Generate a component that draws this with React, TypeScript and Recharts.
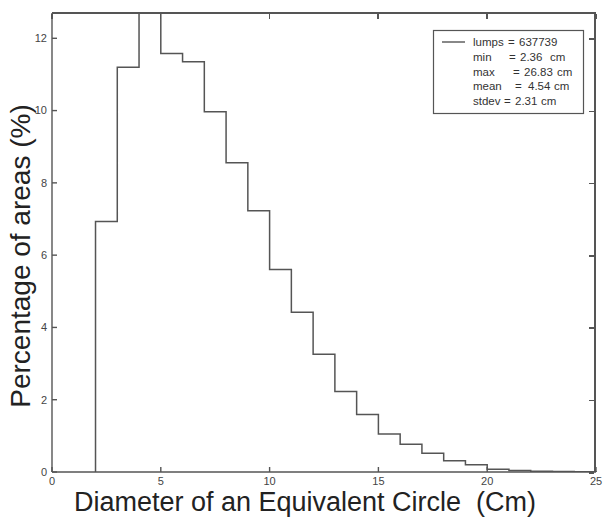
import React from "react";
import { Line, LineChart, XAxis, YAxis, Legend } from "recharts";

document.body.style.margin = "0";

// histogram bins: lower edge (cm) and share of area (%)
const binStart = [2, 3, 4, 5, 6, 7, 8, 9, 10, 11, 12, 13, 14, 15, 16, 17, 18, 19, 20, 21, 22, 23, 24];
const areaPct = [6.93, 11.2, 13.3, 11.58, 11.35, 9.97, 8.56, 7.23, 5.6, 4.42, 3.26, 2.23, 1.59, 1.05, 0.77, 0.52, 0.31, 0.2, 0.075, 0.04, 0.02, 0.012, 0.008];
const binWidth = 1;

const xMax = 25;
const yMax = 12.7;
const xTicks = [0, 5, 10, 15, 20, 25];
const yTicks = [0, 2, 4, 6, 8, 10, 12];

const statNames = ["lumps", "min", "max", "mean", "stdev"];
const statValues = ["637739", "2.36", "26.83", "4.54", "2.31"];
const statUnits = ["", "cm", "cm", "cm", "cm"];

// step outline: start on the baseline, then one point per bin edge, back down at the end
const steps: { x: number; y: number }[] = [{ x: binStart[0], y: 0 }];
binStart.forEach((b, i) => steps.push({ x: b, y: areaPct[i] }));
const lastEdge = binStart[binStart.length - 1] + binWidth;
steps.push({ x: lastEdge, y: areaPct[areaPct.length - 1] });
steps.push({ x: lastEdge, y: 0 });

const W = 604;
const H = 517;
const INK = "#555";
const FONT = "'Liberation Sans', Arial, sans-serif";
const TICK_LEN = 5;
const MARGIN = { top: 13, right: 8, bottom: 0, left: 0 };
const Y_AXIS_W = 52;
const X_AXIS_H = 45;

const plot = {
  x: MARGIN.left + Y_AXIS_W,
  y: MARGIN.top,
  width: W - MARGIN.left - Y_AXIS_W - MARGIN.right,
  height: H - MARGIN.top - X_AXIS_H - MARGIN.bottom,
};

const eqX = [508, 509, 513, 515, 504];
const valX = [519, 520, 524, 528, 515];
const unitX = [0, 550, 557, 554, 541];

function StatsBox() {
  return (
    <svg width={160} height={90} style={{ overflow: "visible", display: "block" }}>
      <rect x={0.5} y={0.5} width={150} height={83} fill="#fff" stroke={INK} strokeWidth={1.2} />
      <line x1={9} x2={32} y1={12} y2={12} stroke={INK} strokeWidth={1.4} />
      {statNames.map((n, i) => {
        const y = 16 + i * 14.8;
        return (
          <g key={n} fontFamily={FONT} fontSize={11.5} fill="#333">
            <text x={40} y={y}>{n}</text>
            <text x={eqX[i] - 433} y={y}>=</text>
            <text x={valX[i] - 433} y={y}>{statValues[i]}</text>
            {statUnits[i] && <text x={unitX[i] - 433} y={y}>{statUnits[i]}</text>}
          </g>
        );
      })}
    </svg>
  );
}

// top and right edges of the box (plain CSS borders), with inward ticks mirroring the axes
function Frame() {
  const { x, y, width, height } = plot;
  return (
    <div
      style={{
        position: "absolute",
        left: x,
        top: y - 1,
        width: width,
        height: height + 1,
        borderTop: `2px solid ${INK}`,
        borderRight: `2px solid ${INK}`,
        boxSizing: "border-box",
        pointerEvents: "none",
        zIndex: 5,
      }}
    >
      {xTicks.map((t) => (
        <div
          key={"t" + t}
          style={{
            position: "absolute",
            left: (t / xMax) * width - 1,
            top: 0,
            width: 1.5,
            height: TICK_LEN,
            background: INK,
          }}
        />
      ))}
      {yTicks.map((t) => (
        <div
          key={"r" + t}
          style={{
            position: "absolute",
            right: 0,
            top: height + 1 - (t / yMax) * height - 2,
            width: TICK_LEN,
            height: 1.5,
            background: INK,
          }}
        />
      ))}
    </div>
  );
}

const tickStyle = { fontSize: 11, fill: "#444", fontFamily: FONT };

export default function App() {
  return (
    <div style={{ background: "#fff", width: W, height: H, position: "relative" }}>
      <LineChart width={W} height={H} data={steps} margin={MARGIN}>
        <XAxis
          dataKey="x"
          type="number"
          domain={[0, xMax]}
          ticks={xTicks}
          height={X_AXIS_H}
          stroke={INK}
          strokeWidth={1.4}
          tickSize={-TICK_LEN}
          tickMargin={10}
          tick={tickStyle}
          label={{
            content: () => (
              <text
                x={305}
                y={511}
                textAnchor="middle"
                fontSize={27}
                fill="#222"
                fontFamily={FONT}
                style={{ whiteSpace: "pre" }}
              >
                Diameter of an Equivalent Circle  (Cm)
              </text>
            ),
          }}
        />
        <YAxis
          type="number"
          domain={[0, yMax]}
          allowDataOverflow
          ticks={yTicks}
          width={Y_AXIS_W}
          stroke={INK}
          strokeWidth={1.4}
          tickSize={-TICK_LEN}
          tickMargin={10}
          tick={tickStyle}
          label={{
            content: () => (
              <text
                transform="translate(30,256) rotate(-90)"
                textAnchor="middle"
                fontSize={28}
                fill="#222"
                fontFamily={FONT}
              >
                Percentage of areas (%)
              </text>
            ),
          }}
        />
        <Legend
          verticalAlign="top"
          align="right"
          wrapperStyle={{ position: "absolute", left: 433, top: 30, width: 0, height: 0, overflow: "visible" }}
          content={() => <StatsBox />}
        />
        <Line
          dataKey="y"
          type="stepAfter"
          stroke={INK}
          strokeWidth={1.5}
          dot={false}
          isAnimationActive={false}
        />
      </LineChart>
      <Frame />
    </div>
  );
}
